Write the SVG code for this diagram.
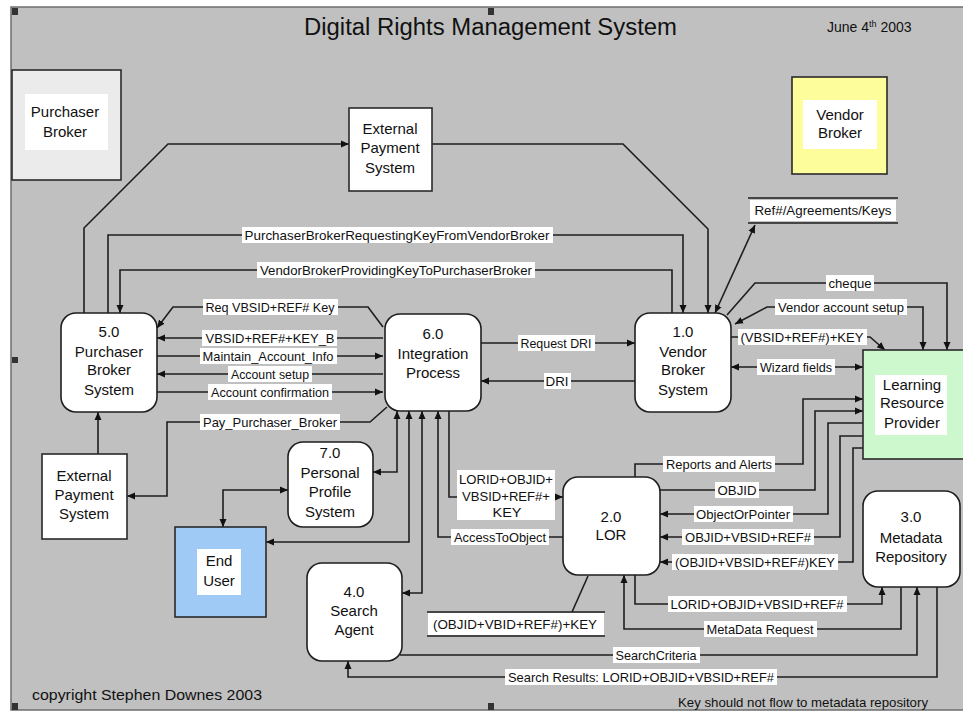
<svg xmlns="http://www.w3.org/2000/svg" width="963" height="711" viewBox="0 0 963 711">
  <style>
    text { font-family: "Liberation Sans", Arial, sans-serif; fill: #111; }
    .nt { font-size: 15px; text-anchor: middle; }
    .lt { font-size: 13px; text-anchor: middle; }
    .lb { fill: #ffffff; }
    .proc { fill: #ffffff; stroke: #1e1e1e; stroke-width: 1.6; }
    .ext { stroke: #2a2a2a; stroke-width: 1.6; }
    .inner { fill: #ffffff; stroke: none; }
    .c { fill: none; stroke: #1e1e1e; stroke-width: 1.6; }
    .ae { marker-end: url(#arr); }
    .ab { marker-start: url(#arr); marker-end: url(#arr); }
    .mark { fill: #333; }
  </style>
  <defs>
    <marker id="arr" markerUnits="userSpaceOnUse" markerWidth="9" markerHeight="8" refX="8" refY="4" orient="auto-start-reverse">
      <path d="M0,0.5 L8,4 L0,7.5 z" fill="#111"/>
    </marker>
  </defs>

  <!-- page frame -->
  <rect x="0" y="0" width="963" height="711" fill="#ffffff"/>
  <rect x="11" y="7" width="960" height="703" fill="#c0c0c0" stroke="#6e6e6e" stroke-width="1.5"/>
  <rect class="mark" x="12" y="8" width="6" height="7"/>
  <rect class="mark" x="488" y="8" width="6" height="7"/>
  <rect class="mark" x="12" y="357" width="6" height="6"/>
  <rect class="mark" x="12" y="703" width="6" height="7"/>
  <rect class="mark" x="488" y="703" width="6" height="7"/>

  <text x="304" y="35" font-size="23" textLength="373" lengthAdjust="spacingAndGlyphs">Digital Rights Management System</text>
  <text x="827" y="32" font-size="14">June 4<tspan font-size="9" dy="-5">th</tspan><tspan dy="5"> 2003</tspan></text>
  <text x="32" y="700" font-size="15" textLength="230" lengthAdjust="spacingAndGlyphs">copyright Stephen Downes 2003</text>
  <text x="678" y="707" font-size="13" textLength="250" lengthAdjust="spacingAndGlyphs">Key should not flow to metadata repository</text>

  <!-- connectors -->
  <g id="connectors">
    <path class="c ae" d="M84,313 V228 L168,144 H349"/>
    <path class="c ae" d="M432,144 H623 L708,229 V313"/>
    <path class="c ae" d="M108,313 V235 H683 V313"/>
    <path class="c ae" d="M672,313 V270 H120 V313"/>
    <path class="c ab" d="M715,313 L755,225"/>
    <path class="c ae" d="M383,327 L368,307 H173 L157,328"/>
    <path class="c ae" d="M383,338 H157"/>
    <path class="c ae" d="M157,356 H383"/>
    <path class="c ae" d="M383,374 H157"/>
    <path class="c ae" d="M157,392 H383"/>
    <path class="c ae" d="M387,407 L370,422 H167 V496 H127"/>
    <path class="c ae" d="M98,454 V412"/>
    <path class="c ae" d="M481,343 H635"/>
    <path class="c ae" d="M635,381 H481"/>
    <path class="c ae" d="M727,315 L755,283 H947 V350"/>
    <path class="c ab" d="M735,324 L767,307 H923 V350"/>
    <path class="c ae" d="M731,337 H870 L885,350"/>
    <path class="c ab" d="M731,367 H863"/>
    <path class="c ae" d="M635,477 V464 H803 V399 H863"/>
    <path class="c ae" d="M660,490 H815 V411 H863"/>
    <path class="c ae" d="M863,423 H828 V514 H660"/>
    <path class="c ae" d="M863,436 H840 V537 H660"/>
    <path class="c ae" d="M863,448 H853 V562 H660"/>
    <path class="c ae" d="M635,575 V604 H882 V587"/>
    <path class="c ae" d="M901,587 V629 H624 V575"/>
    <path class="c ae" d="M400,655 H917 V587"/>
    <path class="c ae" d="M937,587 V677 H348 V661"/>
    <path class="c" d="M588,576 L572,612"/>
    <path class="c ab" d="M397,411 V472 H373"/>
    <path class="c ab" d="M409,411 V542 H266"/>
    <path class="c ab" d="M422,411 V593 H402"/>
    <path class="c ae" d="M563,537 H438 V411"/>
    <path class="c ae" d="M449,411 V497 H563"/>
    <path class="c ab" d="M288,490 H223 V527"/>

    <!-- flow labels -->
    <rect class="lb" x="242" y="227" width="311" height="16"/>
    <text class="lt" x="397" y="240" textLength="305" lengthAdjust="spacingAndGlyphs">PurchaserBrokerRequestingKeyFromVendorBroker</text>
    <rect class="lb" x="257" y="262" width="278" height="16"/>
    <text class="lt" x="396" y="275" textLength="272" lengthAdjust="spacingAndGlyphs">VendorBrokerProvidingKeyToPurchaserBroker</text>
    <rect class="lb" x="203" y="299" width="135" height="16"/>
    <text class="lt" x="270" y="312" textLength="129" lengthAdjust="spacingAndGlyphs">Req VBSID+REF# Key</text>
    <rect class="lb" x="202" y="330" width="135" height="16"/>
    <text class="lt" x="270" y="343" textLength="129" lengthAdjust="spacingAndGlyphs">VBSID+REF#+KEY_B</text>
    <rect class="lb" x="200" y="348" width="137" height="16"/>
    <text class="lt" x="268" y="361" textLength="131" lengthAdjust="spacingAndGlyphs">Maintain_Account_Info</text>
    <rect class="lb" x="228" y="366" width="84" height="16"/>
    <text class="lt" x="270" y="379" textLength="78" lengthAdjust="spacingAndGlyphs">Account setup</text>
    <rect class="lb" x="208" y="384" width="124" height="16"/>
    <text class="lt" x="270" y="397" textLength="118" lengthAdjust="spacingAndGlyphs">Account confirmation</text>
    <rect class="lb" x="200" y="414" width="140" height="16"/>
    <text class="lt" x="270" y="427" textLength="134" lengthAdjust="spacingAndGlyphs">Pay_Purchaser_Broker</text>
    <rect class="lb" x="518" y="335" width="77" height="16"/>
    <text class="lt" x="556" y="348" textLength="71" lengthAdjust="spacingAndGlyphs">Request DRI</text>
    <rect class="lb" x="544" y="373" width="27" height="16"/>
    <text class="lt" x="557" y="386" textLength="23" lengthAdjust="spacingAndGlyphs">DRI</text>
    <rect class="lb" x="826" y="275" width="48" height="16"/>
    <text class="lt" x="850" y="288" textLength="43" lengthAdjust="spacingAndGlyphs">cheque</text>
    <rect class="lb" x="775" y="299" width="132" height="16"/>
    <text class="lt" x="841" y="312" textLength="126" lengthAdjust="spacingAndGlyphs">Vendor account setup</text>
    <rect class="lb" x="738" y="329" width="129" height="16"/>
    <text class="lt" x="802" y="342" textLength="123" lengthAdjust="spacingAndGlyphs">(VBSID+REF#)+KEY</text>
    <rect class="lb" x="757" y="359" width="78" height="16"/>
    <text class="lt" x="796" y="372" textLength="72" lengthAdjust="spacingAndGlyphs">Wizard fields</text>
    <rect class="lb" x="663" y="456" width="112" height="16"/>
    <text class="lt" x="719" y="469" textLength="106" lengthAdjust="spacingAndGlyphs">Reports and Alerts</text>
    <rect class="lb" x="715" y="482" width="44" height="16"/>
    <text class="lt" x="737" y="495" textLength="39" lengthAdjust="spacingAndGlyphs">OBJID</text>
    <rect class="lb" x="694" y="506" width="99" height="16"/>
    <text class="lt" x="743" y="519" textLength="94" lengthAdjust="spacingAndGlyphs">ObjectOrPointer</text>
    <rect class="lb" x="682" y="529" width="132" height="16"/>
    <text class="lt" x="748" y="542" textLength="126" lengthAdjust="spacingAndGlyphs">OBJID+VBSID+REF#</text>
    <rect class="lb" x="672" y="554" width="166" height="16"/>
    <text class="lt" x="755" y="567" textLength="160" lengthAdjust="spacingAndGlyphs">(OBJID+VBSID+REF#)KEY</text>
    <rect class="lb" x="668" y="596" width="179" height="16"/>
    <text class="lt" x="757" y="609" textLength="173" lengthAdjust="spacingAndGlyphs">LORID+OBJID+VBSID+REF#</text>
    <rect class="lb" x="704" y="621" width="113" height="16"/>
    <text class="lt" x="760" y="634" textLength="107" lengthAdjust="spacingAndGlyphs">MetaData Request</text>
    <rect class="lb" x="613" y="647" width="87" height="16"/>
    <text class="lt" x="656" y="660" textLength="81" lengthAdjust="spacingAndGlyphs">SearchCriteria</text>
    <rect class="lb" x="505" y="669" width="272" height="16"/>
    <text class="lt" x="641" y="682" textLength="266" lengthAdjust="spacingAndGlyphs">Search Results: LORID+OBJID+VBSID+REF#</text>
    <rect class="lb" x="451" y="529" width="98" height="16"/>
    <text class="lt" x="500" y="542" textLength="92" lengthAdjust="spacingAndGlyphs">AccessToObject</text>
    <rect class="lb" x="457" y="470" width="98" height="50"/>
    <text class="lt" x="506" y="484" textLength="94" lengthAdjust="spacingAndGlyphs">LORID+OBJID+</text>
    <text class="lt" x="506" y="501" textLength="88" lengthAdjust="spacingAndGlyphs">VBSID+REF#+</text>
    <text class="lt" x="507" y="517" textLength="29" lengthAdjust="spacingAndGlyphs">KEY</text>
  </g>

  <!-- data stores -->
  <g id="store-refs">
    <rect class="lb" x="750" y="200" width="146" height="21"/>
    <path class="c" d="M748,198 H898 M748,223 H898"/>
    <text class="lt" x="823" y="215" textLength="137" lengthAdjust="spacingAndGlyphs">Ref#/Agreements/Keys</text>
  </g>
  <g id="store-keys">
    <rect class="lb" x="428" y="613" width="176" height="22"/>
    <path class="c" d="M427,612 H605 M427,636 H605"/>
    <text class="lt" x="515" y="629" textLength="164" lengthAdjust="spacingAndGlyphs">(OBJID+VBID+REF#)+KEY</text>
  </g>

  <!-- external entities -->
  <g id="purchaser-broker">
    <rect class="ext" x="12" y="70" width="109" height="110" fill="#ebebeb"/>
    <rect class="inner" x="25" y="94" width="83" height="56"/>
    <text class="nt" x="65" y="117">Purchaser</text>
    <text class="nt" x="65" y="137">Broker</text>
  </g>
  <g id="vendor-broker">
    <rect class="ext" x="792" y="77" width="95" height="97" fill="#fdfd9c"/>
    <rect class="inner" x="803" y="100" width="74" height="49"/>
    <text class="nt" x="840" y="120">Vendor</text>
    <text class="nt" x="840" y="138">Broker</text>
  </g>
  <g id="ext-payment-top">
    <rect class="ext" x="349" y="108" width="83" height="83" fill="#ffffff"/>
    <text class="nt" x="390" y="134">External</text>
    <text class="nt" x="390" y="153">Payment</text>
    <text class="nt" x="390" y="173">System</text>
  </g>
  <g id="ext-payment-bottom">
    <rect class="ext" x="42" y="454" width="85" height="85" fill="#ffffff"/>
    <text class="nt" x="84" y="481">External</text>
    <text class="nt" x="84" y="500">Payment</text>
    <text class="nt" x="84" y="519">System</text>
  </g>
  <g id="end-user">
    <rect class="ext" x="175" y="527" width="91" height="90" fill="#9ecaf5"/>
    <rect class="inner" x="197" y="549" width="44" height="46"/>
    <text class="nt" x="219" y="566">End</text>
    <text class="nt" x="219" y="586">User</text>
  </g>
  <g id="learning-resource-provider">
    <rect class="ext" x="863" y="350" width="110" height="109" fill="#cdf7cd"/>
    <rect class="inner" x="875" y="375" width="72" height="60"/>
    <text class="nt" x="912" y="390">Learning</text>
    <text class="nt" x="912" y="408">Resource</text>
    <text class="nt" x="912" y="428">Provider</text>
  </g>

  <!-- processes -->
  <g id="p5">
    <rect class="proc" x="61" y="313" width="96" height="99" rx="15"/>
    <text class="nt" x="109" y="337">5.0</text>
    <text class="nt" x="109" y="357">Purchaser</text>
    <text class="nt" x="109" y="375">Broker</text>
    <text class="nt" x="109" y="395">System</text>
  </g>
  <g id="p6">
    <rect class="proc" x="385" y="314" width="96" height="97" rx="15"/>
    <text class="nt" x="433" y="339">6.0</text>
    <text class="nt" x="433" y="359">Integration</text>
    <text class="nt" x="433" y="378">Process</text>
  </g>
  <g id="p1">
    <rect class="proc" x="635" y="313" width="96" height="99" rx="15"/>
    <text class="nt" x="683" y="337">1.0</text>
    <text class="nt" x="683" y="357">Vendor</text>
    <text class="nt" x="683" y="375">Broker</text>
    <text class="nt" x="683" y="395">System</text>
  </g>
  <g id="p7">
    <rect class="proc" x="288" y="442" width="85" height="85" rx="15"/>
    <text class="nt" x="330" y="458">7.0</text>
    <text class="nt" x="330" y="478">Personal</text>
    <text class="nt" x="330" y="497">Profile</text>
    <text class="nt" x="330" y="517">System</text>
  </g>
  <g id="p4">
    <rect class="proc" x="307" y="563" width="95" height="98" rx="15"/>
    <text class="nt" x="354" y="597">4.0</text>
    <text class="nt" x="354" y="616">Search</text>
    <text class="nt" x="354" y="635">Agent</text>
  </g>
  <g id="p2">
    <rect class="proc" x="563" y="477" width="97" height="98" rx="15"/>
    <text class="nt" x="611" y="522">2.0</text>
    <text class="nt" x="611" y="540">LOR</text>
  </g>
  <g id="p3">
    <rect class="proc" x="863" y="491" width="97" height="96" rx="15"/>
    <text class="nt" x="911" y="522">3.0</text>
    <text class="nt" x="911" y="543">Metadata</text>
    <text class="nt" x="911" y="562">Repository</text>
  </g>
</svg>
